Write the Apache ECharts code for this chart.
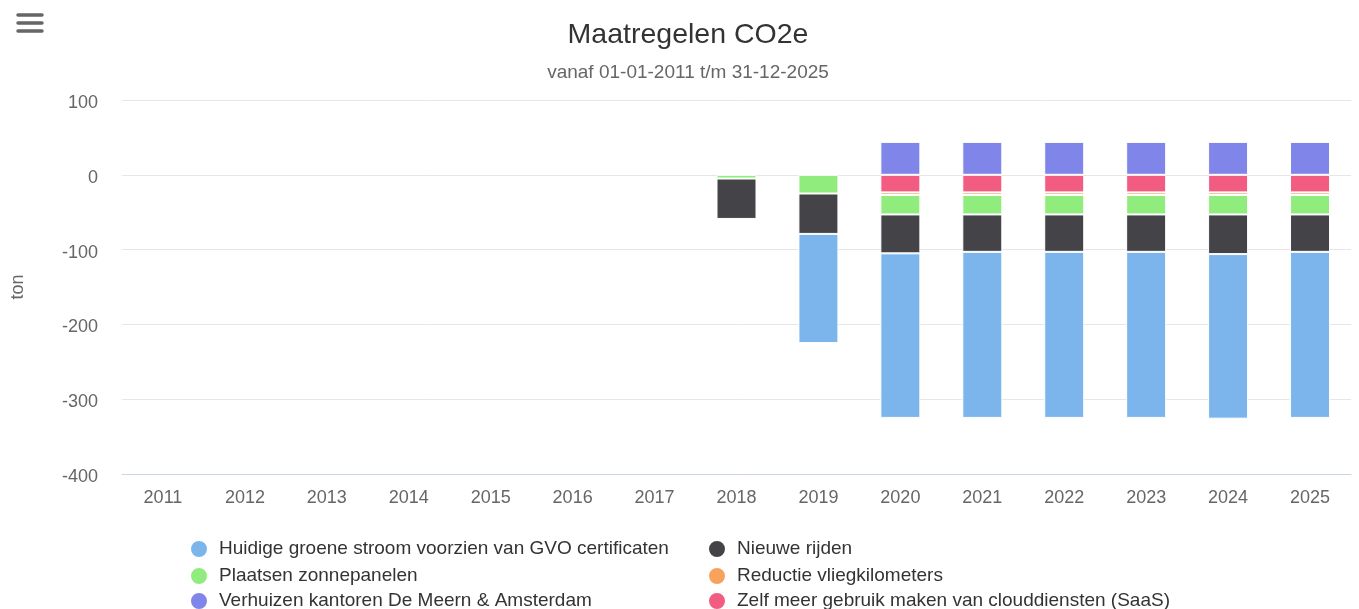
<!DOCTYPE html>
<html>
<head>
<meta charset="utf-8">
<script src="https://cdn.jsdelivr.net/npm/echarts@6/dist/echarts.min.js"></script>
<style>
html,body{margin:0;padding:0;background:#fff;}
#main{width:1359px;height:609px;}
</style>
</head>
<body>
<div id="main"></div>
<script>
const years = ['2011','2012','2013','2014','2015','2016','2017','2018','2019','2020','2021','2022','2023','2024','2025'];
const yTicks = [-400, -300, -200, -100, 0, 100];

const groeneStroom = [null,null,null,null,null,null,null,null,-146,-220,-222,-222,-222,-220,-222];
const nieuweRijden = [null,null,null,null,null,null,null,-54,-54,-52,-50,-50,-50,-53,-50];
const zonnepanelen = [null,null,null,null,null,null,null,-5,-25,-26,-26,-26,-26,-26,-26];
const vliegkm = [null,null,null,null,null,null,null,null,null,-3.5,-3.5,-3.5,-3.5,-3.5,-3.5];
const verhuizen = [null,null,null,null,null,null,null,null,null,44,44,44,44,44,44];
const cloud = [null,null,null,null,null,null,null,null,null,-23.5,-23.5,-23.5,-23.5,-23.5,-23.5];

const names = {
  groen: 'Huidige groene stroom voorzien van GVO certificaten',
  rijden: 'Nieuwe rijden',
  zon: 'Plaatsen zonnepanelen',
  vlieg: 'Reductie vliegkilometers',
  verh: 'Verhuizen kantoren De Meern & Amsterdam',
  cloud: 'Zelf meer gebruik maken van clouddiensten (SaaS)'
};
const colors = {
  groen: '#7cb5ec', rijden: '#434348', zon: '#90ed7d',
  vlieg: '#f7a35c', verh: '#8085e9', cloud: '#f15c80'
};

const FONT = '"Liberation Sans", Arial, sans-serif';

function bar(key, data) {
  return {
    name: names[key], type: 'bar', stack: 'total', data: data,
    barWidth: 40,
    itemStyle: { color: colors[key], borderColor: '#ffffff', borderWidth: 1 },
    emphasis: { disabled: true }
  };
}

function legendItem(key, left, top) {
  return {
    orient: 'horizontal', left: left, top: top, padding: 0,
    data: [names[key]],
    icon: 'circle', itemWidth: 18, itemHeight: 18,
    textStyle: { color: '#333333', fontSize: 19, fontFamily: FONT, padding: [0, 0, 0, 6] },
    selectedMode: false
  };
}

const chart = echarts.init(document.getElementById('main'), null, { renderer: 'canvas' });
chart.setOption({
  animation: false,
  textStyle: { fontFamily: FONT },
  title: {
    text: 'Maatregelen CO2e',
    subtext: 'vanaf 01-01-2011 t/m 31-12-2025',
    left: 683, textAlign: 'center', top: 16, itemGap: 13,
    textStyle: { color: '#333333', fontSize: 28.5, fontWeight: 'normal', fontFamily: FONT },
    subtextStyle: { color: '#666666', fontSize: 19, fontFamily: FONT }
  },
  graphic: [
    { type: 'line', shape: { x1: 18, y1: 15, x2: 42, y2: 15 }, style: { stroke: '#666', lineWidth: 3.5, lineCap: 'round' } },
    { type: 'line', shape: { x1: 18, y1: 23, x2: 42, y2: 23 }, style: { stroke: '#666', lineWidth: 3.5, lineCap: 'round' } },
    { type: 'line', shape: { x1: 18, y1: 31, x2: 42, y2: 31 }, style: { stroke: '#666', lineWidth: 3.5, lineCap: 'round' } }
  ],
  legend: [
    legendItem('groen', 189, 539),
    legendItem('zon', 189, 566),
    legendItem('verh', 189, 591),
    legendItem('rijden', 707, 539),
    legendItem('vlieg', 707, 566),
    legendItem('cloud', 707, 591)
  ],
  grid: { left: 122, right: 8, top: 100, bottom: 135 },
  xAxis: {
    type: 'category', data: years,
    axisLine: { onZero: false, lineStyle: { color: '#ccd6eb' } },
    axisTick: { length: 10, lineStyle: { color: '#ccd6eb' } },
    axisLabel: { color: '#666666', fontSize: 18, margin: 15, fontFamily: FONT }
  },
  yAxis: {
    type: 'value', min: yTicks[0], max: yTicks[yTicks.length - 1], interval: 100,
    name: 'ton', nameLocation: 'middle', nameGap: 95, nameRotate: 90,
    nameTextStyle: { color: '#666666', fontSize: 18, fontFamily: FONT },
    axisLine: { show: false }, axisTick: { show: false },
    splitLine: { lineStyle: { color: '#e6e6e6', width: 1 } },
    axisLabel: { color: '#666666', fontSize: 18, margin: 24, fontFamily: FONT, verticalAlign: 'top', lineHeight: 6 }
  },
  series: [
    bar('cloud', cloud),
    bar('vlieg', vliegkm),
    bar('zon', zonnepanelen),
    bar('rijden', nieuweRijden),
    bar('groen', groeneStroom),
    bar('verh', verhuizen)
  ]
});
</script>
</body>
</html>
